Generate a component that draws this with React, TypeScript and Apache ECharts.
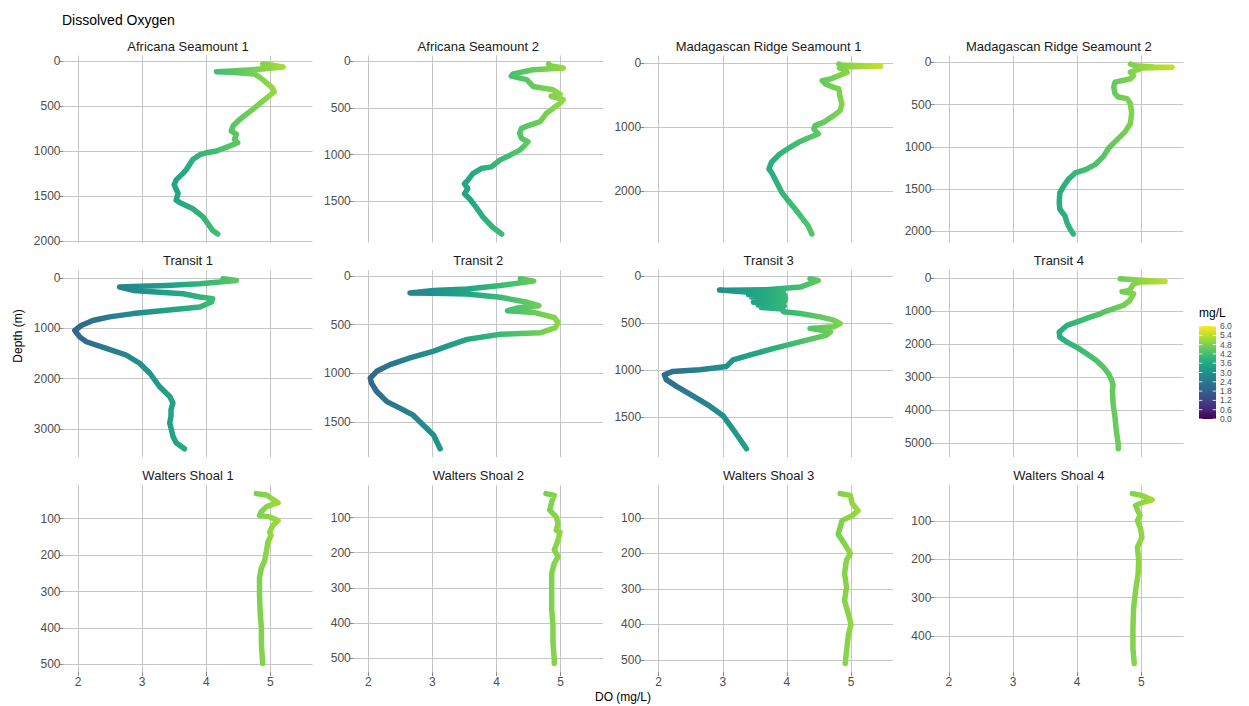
import { useEffect, useRef } from "react";
import * as echarts from "echarts";

// Dissolved oxygen profiles: each point is [DO (mg/L), depth (m)]
const panelTitles = [
  "Africana Seamount 1",
  "Africana Seamount 2",
  "Madagascan Ridge Seamount 1",
  "Madagascan Ridge Seamount 2",
  "Transit 1",
  "Transit 2",
  "Transit 3",
  "Transit 4",
  "Walters Shoal 1",
  "Walters Shoal 2",
  "Walters Shoal 3",
  "Walters Shoal 4",
];

const africana1 = [
  [4.88, 35], [5.05, 50], [5.2, 68], [4.95, 85], [4.7, 100], [4.4, 112], [4.16, 120], [4.45, 128],
  [4.75, 145], [4.85, 190], [4.95, 250], [5.03, 300], [5.06, 345], [4.93, 420], [4.73, 535],
  [4.52, 650], [4.42, 720], [4.39, 778], [4.47, 815], [4.44, 870], [4.49, 908], [4.36, 946],
  [4.16, 1000], [4.0, 1020], [3.9, 1040], [3.79, 1095], [3.69, 1205], [3.64, 1245], [3.53, 1320],
  [3.5, 1375], [3.56, 1470], [3.53, 1545], [3.61, 1580], [3.79, 1640], [3.95, 1730], [4.1, 1880],
  [4.18, 1920],
];

const africana2 = [
  [4.81, 30], [4.85, 50], [5.04, 72], [4.57, 92], [4.26, 136], [4.23, 160], [4.47, 197], [4.57, 270],
  [4.88, 305], [4.99, 355], [4.85, 375], [5.04, 410], [4.99, 448], [4.78, 556], [4.68, 646],
  [4.45, 700], [4.39, 718], [4.36, 771], [4.39, 825], [4.49, 861], [4.42, 915], [4.36, 951],
  [4.21, 1005], [4.05, 1058], [3.92, 1130], [3.76, 1148], [3.63, 1202], [3.55, 1274], [3.5, 1310],
  [3.55, 1363], [3.5, 1417], [3.58, 1471], [3.68, 1561], [3.79, 1668], [3.94, 1776], [4.08, 1848],
];

const madagascar1 = [
  [4.81, 16], [4.85, 30], [5.2, 45], [5.46, 52], [5.0, 60], [4.82, 80], [4.92, 110], [4.94, 145],
  [4.81, 197], [4.68, 250], [4.55, 275], [4.6, 327], [4.73, 380], [4.81, 405], [4.83, 535],
  [4.86, 640], [4.83, 743], [4.73, 820], [4.57, 925], [4.44, 977], [4.42, 1029], [4.49, 1106],
  [4.36, 1158], [4.18, 1236], [4.05, 1314], [3.89, 1418], [3.76, 1548], [3.72, 1652], [3.76, 1704],
  [3.84, 1860], [3.92, 2016], [4.02, 2145], [4.13, 2275], [4.23, 2405], [4.33, 2535], [4.39, 2665],
];

const madagascar2 = [
  [4.83, 20], [4.9, 40], [5.2, 55], [5.48, 59], [5.0, 66], [4.98, 78], [4.83, 117], [4.88, 156],
  [4.83, 195], [4.59, 234], [4.57, 293], [4.59, 371], [4.64, 410], [4.78, 430], [4.83, 488],
  [4.85, 605], [4.83, 723], [4.75, 820], [4.62, 918], [4.49, 1016], [4.41, 1113], [4.28, 1211],
  [4.13, 1270], [3.97, 1309], [3.86, 1387], [3.79, 1465], [3.73, 1543], [3.72, 1660], [3.73, 1738],
  [3.81, 1816], [3.84, 1895], [3.89, 1973], [3.94, 2031],
];

const transit1 = [
  [4.26, 20], [4.47, 53], [3.9, 118], [3.38, 151], [2.86, 171], [2.65, 184], [2.86, 250], [3.22, 283],
  [3.64, 316], [3.9, 382], [4.1, 414], [4.08, 480], [3.9, 579], [3.38, 645], [2.86, 711], [2.49, 776],
  [2.23, 849], [2.05, 947], [1.95, 1046], [2.03, 1178], [2.13, 1270], [2.44, 1401], [2.75, 1533],
  [2.96, 1697], [3.12, 1895], [3.27, 2158], [3.43, 2355], [3.48, 2487], [3.45, 2618], [3.45, 2750],
  [3.43, 2882], [3.48, 3145], [3.53, 3276], [3.66, 3395],
];

const transit2 = [
  [4.37, 28], [4.58, 52], [4.06, 97], [3.54, 132], [3.02, 149], [2.65, 173], [3.02, 177], [3.54, 184],
  [4.06, 218], [4.48, 270], [4.66, 305], [4.32, 329], [4.17, 357], [4.58, 374], [4.9, 426], [4.96, 478],
  [4.92, 530], [4.69, 582], [4.06, 599], [3.54, 651], [3.23, 720], [3.02, 772], [2.65, 842],
  [2.34, 911], [2.13, 980], [2.03, 1050], [2.05, 1101], [2.13, 1188], [2.29, 1292], [2.5, 1361],
  [2.7, 1431], [2.86, 1534], [3.02, 1638], [3.12, 1777],
];

const transit3 = [
  [4.36, 28], [4.49, 46], [4.21, 116], [3.68, 144], [3.06, 151], [2.95, 148], [3.42, 170], [3.95, 182],
  [3.4, 196], [3.97, 208], [3.45, 222], [3.98, 236], [3.5, 250], [3.97, 264], [3.48, 278], [3.95, 292],
  [3.55, 306], [3.96, 320], [3.6, 334], [3.92, 350], [3.95, 380], [4.21, 398], [4.52, 433],
  [4.73, 468], [4.83, 504], [4.73, 539], [4.36, 556], [4.68, 592], [4.62, 627], [4.42, 662],
  [4.11, 715], [3.8, 768], [3.43, 838], [3.16, 891], [3.06, 961], [2.64, 996], [2.22, 1014],
  [2.09, 1049], [2.12, 1102], [2.28, 1173], [2.54, 1278], [2.8, 1384], [3.01, 1489], [3.16, 1630],
  [3.37, 1838],
];

const transit4 = [
  [4.67, 30], [4.9, 60], [5.2, 100], [5.37, 111], [5.0, 125], [4.88, 182], [4.82, 384], [4.7, 420],
  [4.88, 485], [4.82, 687], [4.72, 838], [4.56, 939], [4.41, 1040], [4.36, 1091], [4.2, 1192],
  [3.99, 1343], [3.84, 1444], [3.78, 1545], [3.72, 1646], [3.73, 1798], [3.84, 1949], [3.99, 2101],
  [4.15, 2303], [4.3, 2505], [4.41, 2707], [4.49, 2909], [4.54, 3111], [4.56, 3263], [4.55, 3414],
  [4.56, 3818], [4.59, 4222], [4.61, 4626], [4.64, 5030], [4.64, 5182],
];

const walters1 = [
  [4.78, 31], [4.94, 35], [5.12, 56], [4.94, 67], [4.86, 80], [4.83, 91], [4.99, 95], [5.12, 105],
  [5.04, 118], [4.99, 137], [5.01, 146], [4.96, 165], [4.94, 188], [4.91, 216], [4.86, 235],
  [4.83, 262], [4.83, 308], [4.84, 355], [4.86, 401], [4.86, 447], [4.88, 498],
];

const walters2 = [
  [4.77, 32], [4.9, 37], [4.86, 56], [4.83, 79], [4.93, 98], [4.96, 117], [4.93, 136], [4.99, 141],
  [4.96, 164], [4.9, 192], [4.96, 211], [4.9, 230], [4.86, 259], [4.86, 315], [4.86, 362],
  [4.88, 409], [4.88, 457], [4.9, 504], [4.9, 515],
];

const walters3 = [
  [4.83, 32], [4.99, 37], [5.02, 60], [5.11, 80], [5.02, 94], [4.86, 108], [4.83, 127], [4.8, 146],
  [4.9, 174], [4.99, 200], [4.93, 219], [4.9, 257], [4.93, 295], [4.9, 333], [4.96, 371], [5.0, 400],
  [4.96, 428], [4.93, 476], [4.91, 510],
];

const walters4 = [
  [4.86, 29], [4.99, 33], [5.17, 45], [5.04, 51], [4.91, 60], [4.98, 86], [4.94, 99], [4.99, 121],
  [5.01, 143], [4.94, 169], [4.96, 204], [4.95, 239], [4.91, 283], [4.88, 327], [4.87, 380],
  [4.87, 432], [4.89, 472],
];

const profiles = [
  africana1, africana2, madagascar1, madagascar2,
  transit1, transit2, transit3, transit4,
  walters1, walters2, walters3, walters4,
];

// Depth tick spacing for each panel
const depthSteps = [500, 500, 1000, 500, 1000, 500, 500, 1000, 100, 100, 100, 100];
const doTicks = [2, 3, 4, 5];
const legendTicks = ["0.0", "0.6", "1.2", "1.8", "2.4", "3.0", "3.6", "4.2", "4.8", "5.4", "6.0"];
const legendMin = 0;
const legendMax = 6;

const viridis = [
  "#440154", "#482475", "#414487", "#355f8d", "#2a788e", "#21918c",
  "#22a884", "#44bf70", "#7ad151", "#bddf26", "#fde725",
];

// Layout of the 4 x 3 facet grid, in pixels
const W = 1249;
const H = 706;
const LEFT0 = 63.5;
const COL_STEP = 290.3;
const PANEL_W = 249;
const TOP0 = 55.5;
const ROW_STEP = 214.8;
const PANEL_H = 187;
const FONT = "'Liberation Sans', Arial, Helvetica, sans-serif";

// ggplot-style 5% expansion of a data range
function expand(lo: number, hi: number) {
  const pad = (hi - lo) * 0.05;
  return [lo - pad, hi + pad];
}

export default function App() {
  const ref = useRef<HTMLDivElement>(null);

  useEffect(() => {
    if (!ref.current) return;
    const chart = echarts.init(ref.current, undefined, { renderer: "svg" });

    const allDo = profiles.flat().map((p) => p[0]);
    const [xMin, xMax] = expand(Math.min(...allDo), Math.max(...allDo));

    const grids: any[] = [];
    const xAxes: any[] = [];
    const yAxes: any[] = [];
    const series: any[] = [];
    const graphics: any[] = [];
    const plain = (v: number) => String(v);

    profiles.forEach((data, i) => {
      const col = i % 4;
      const row = Math.floor(i / 4);
      const left = LEFT0 + col * COL_STEP;
      const top = TOP0 + row * ROW_STEP;
      const bottomRow = row === 2;

      grids.push({ left, top, width: PANEL_W, height: PANEL_H, containLabel: false });

      const depths = data.map((p) => p[1]);
      const [yMin, yMax] = expand(Math.min(...depths), Math.max(...depths));
      const step = depthSteps[i];
      const yTicks: number[] = [];
      for (let v = Math.ceil(yMin / step) * step; v <= yMax; v += step) yTicks.push(v);

      const gridLine = { show: true, lineStyle: { color: "#c6c6c6", width: 1 } };

      xAxes.push({
        gridIndex: i,
        type: "value",
        min: xMin,
        max: xMax,
        minInterval: 1,
        maxInterval: 1,
        axisLine: { show: false },
        axisTick: {
          show: bottomRow,
          length: 4,
          customValues: doTicks,
          lineStyle: { color: "#8a8a8a" },
        },
        axisLabel: {
          show: bottomRow,
          customValues: doTicks,
          formatter: plain,
          color: "#4d4d4d",
          fontSize: 12,
          fontFamily: FONT,
          margin: 4,
        },
        splitLine: gridLine,
      });

      yAxes.push({
        gridIndex: i,
        type: "value",
        inverse: true,
        min: yMin,
        max: yMax,
        minInterval: step,
        maxInterval: step,
        axisLine: { show: false },
        axisTick: {
          show: true,
          length: 4,
          customValues: yTicks,
          lineStyle: { color: "#8a8a8a" },
        },
        axisLabel: {
          customValues: yTicks,
          formatter: plain,
          color: "#4d4d4d",
          fontSize: 12,
          fontFamily: FONT,
          margin: 3,
        },
        splitLine: gridLine,
      });

      series.push({
        type: "line",
        name: panelTitles[i],
        xAxisIndex: i,
        yAxisIndex: i,
        data,
        symbol: "none",
        showSymbol: false,
        smooth: false,
        clip: false,
        lineStyle: { width: 5.5, cap: "round", join: "round" },
      });

      graphics.push({
        type: "text",
        x: left + PANEL_W / 2,
        y: top - 9.5,
        style: {
          text: panelTitles[i],
          fill: "#1a1a1a",
          font: `13px ${FONT}`,
          align: "center",
          verticalAlign: "middle",
        },
      });
    });

    // Main title and axis titles
    graphics.push(
      {
        type: "text",
        x: 62,
        y: 20,
        style: { text: "Dissolved Oxygen", fill: "#000", font: `14px ${FONT}`, align: "left", verticalAlign: "middle" },
      },
      {
        type: "text",
        x: 18,
        y: 336,
        rotation: Math.PI / 2,
        style: { text: "Depth (m)", fill: "#000", font: `12px ${FONT}`, align: "center", verticalAlign: "middle" },
      },
      {
        type: "text",
        x: 623,
        y: 697,
        style: { text: "DO (mg/L)", fill: "#000", font: `12px ${FONT}`, align: "center", verticalAlign: "middle" },
      }
    );

    // Colour bar legend (yellow at the top, purple at the bottom)
    const barX = 1199;
    const barY = 326;
    const barW = 17;
    const barH = 93;
    const stops = viridis
      .map((c, k) => ({ offset: 1 - k / (viridis.length - 1), color: c }))
      .reverse();
    graphics.push(
      {
        type: "text",
        x: barX,
        y: 313,
        style: { text: "mg/L", fill: "#000", font: `12px ${FONT}`, align: "left", verticalAlign: "middle" },
      },
      {
        type: "rect",
        shape: { x: barX, y: barY, width: barW, height: barH },
        style: { fill: new echarts.graphic.LinearGradient(0, 0, 0, 1, stops) },
      }
    );
    legendTicks.forEach((t) => {
      const v = parseFloat(t);
      const yy = barY + barH - ((v - legendMin) / (legendMax - legendMin)) * barH;
      graphics.push(
        {
          type: "line",
          shape: { x1: barX, y1: yy, x2: barX + 3.4, y2: yy },
          style: { stroke: "#ffffff", lineWidth: 0.8 },
        },
        {
          type: "line",
          shape: { x1: barX + barW - 3.4, y1: yy, x2: barX + barW, y2: yy },
          style: { stroke: "#ffffff", lineWidth: 0.8 },
        },
        {
          type: "text",
          x: barX + barW + 4,
          y: yy,
          style: {
            text: t,
            fill: "#4d4d4d",
            font: `8.5px ${FONT}`,
            lineHeight: 8.5,
            align: "left",
            verticalAlign: "middle",
          },
        }
      );
    });

    chart.setOption({
      animation: false,
      backgroundColor: "#ffffff",
      grid: grids,
      xAxis: xAxes,
      yAxis: yAxes,
      series,
      visualMap: {
        type: "continuous",
        show: false,
        dimension: 0,
        min: legendMin,
        max: legendMax,
        seriesIndex: profiles.map((_, k) => k),
        inRange: { color: viridis },
      },
      graphic: graphics,
    });

    return () => chart.dispose();
  }, []);

  return (
    <div
      ref={ref}
      style={{ position: "fixed", left: 0, top: 0, width: W, height: H, background: "#fff" }}
    />
  );
}
